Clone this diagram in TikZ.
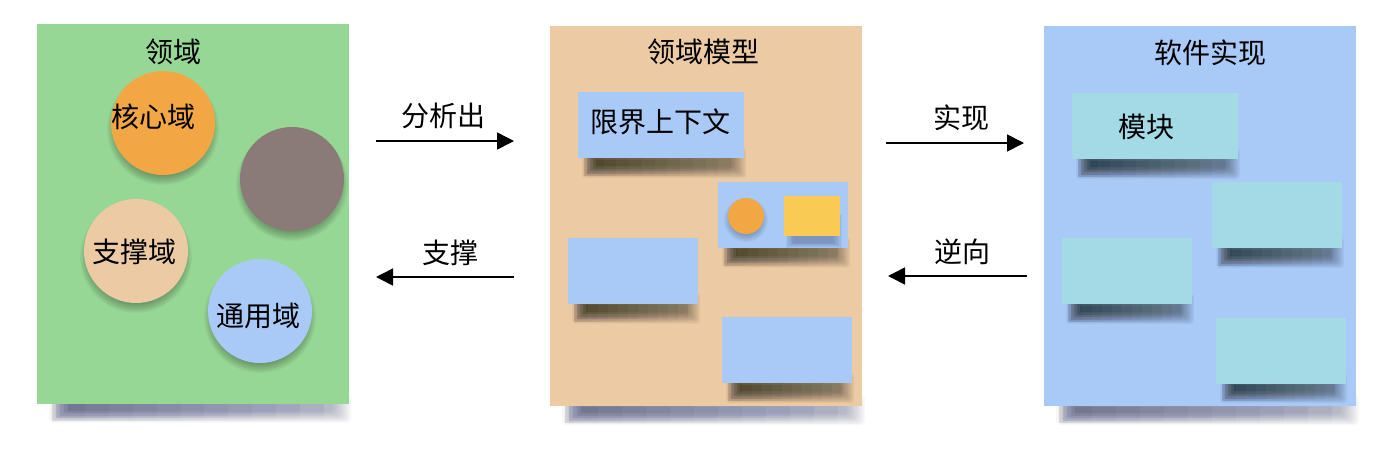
\documentclass[tikz,border=0pt]{standalone}
\usepackage{fontspec}
\setmainfont{Noto Sans CJK SC}
\usetikzlibrary{arrows.meta}
\definecolor{pgreen}{HTML}{97D795}
\definecolor{ptan}{HTML}{EBCAA4}
\definecolor{pblue}{HTML}{A9C9F7}
\definecolor{pcyan}{HTML}{A3DAE6}
\definecolor{porange}{HTML}{F2A744}
\definecolor{pgrey}{HTML}{8B7B78}
\definecolor{pyellow}{HTML}{F9CB55}
\definecolor{shd}{HTML}{1E2550}
% soft shadow under a card: left x, right x, bottom y
\newcommand\cardshadow[3]{%
  \foreach \i in {0,...,9}{%
    \fill[black,opacity=0.045,rounded corners=3pt] ({#1+4+\i*1.5},{#3-10+\i*1.2}) rectangle ({#2+2-\i*1.5},{#3+20-\i*1.2});}
  \foreach \i in {0,...,4}{%
    \foreach \j in {1,...,12}{%
      \fill[black,opacity=0.0065] ({#1+6+\i*3},{#3-8+\i*2.4}) rectangle ({#1+(#2-#1)*\j/13},{#3+18-\i*2.4});}}}
% soft shadow under a panel
\newcommand\panelshadow[3]{%
  \foreach \i in {0,...,9}{%
    \fill[shd,opacity=0.035,rounded corners=4pt] ({#1+12+\i*2},{#3-11+\i*1.2}) rectangle ({#2+3-\i*2},{#3+19-\i*1.2});}
  \foreach \i in {0,...,4}{%
    \foreach \j in {1,...,12}{%
      \fill[shd,opacity=0.006] ({#1+15+\i*4},{#3-9+\i*2.4}) rectangle ({#1+(#2-#1)*\j/13},{#3+17-\i*2.4});}}}
% soft shadow under a disc: centre x, centre y, radius
\newcommand\discshadow[3]{%
  \foreach \i in {0,...,7}{%
    \fill[black,opacity=0.04] (#1,{#2+6}) circle ({#3+4-\i*1.3});
  }}
\begin{document}
\begin{tikzpicture}[x=1pt,y=-1pt,
  panel/.style={rectangle,inner sep=0pt,draw=none,minimum width=312pt,minimum height=380pt},
  card/.style={rectangle,inner sep=0pt,draw=none,minimum width=130pt,minimum height=66pt},
  disc/.style={circle,inner sep=0pt,draw=none,minimum size=104pt},
  txt/.style={inner sep=0pt,font=\fontsize{28}{32}\selectfont,text=black},
  conn/.style={line width=1.6pt,-{Triangle[length=17pt,width=17pt]}}]
\useasboundingbox (0,0) rectangle (1398,456);
\fill[white] (0,0) rectangle (1398,456);

% panel shadows and panels
\panelshadow{37}{348}{403.5}
\panelshadow{550}{862}{406}
\panelshadow{1044}{1356}{406}
\node[panel,fill=pgreen] (dom) at (192.5,213.5) {};
\node[panel,fill=ptan] (model) at (706,216) {};
\node[panel,fill=pblue] (soft) at (1200,216) {};

\node[txt] (domT) at (173,52) {领域};
\node[txt] (modelT) at (703,52) {领域模型};
\node[txt] (softT) at (1210,53) {软件实现};

% domain circles
\discshadow{163}{123}{52}
\discshadow{292}{179}{52}
\discshadow{136}{251}{52}
\discshadow{260}{311}{52}
\node[disc,fill=porange] (core) at (163,123) {};
\node[disc,fill=pgrey] (grey) at (292,179) {};
\node[disc,fill=ptan] (supp) at (136,251) {};
\node[disc,fill=pblue] (gen) at (260,311) {};
\node[txt] (coreT) at ([shift={(-10,-6)}]core.center) {核心域};
\node[txt] (suppT) at ([shift={(-2,1)}]supp.center) {支撑域};
\node[txt] (genT) at ([shift={(-2,5)}]gen.center) {通用域};

% model cards
\cardshadow{578}{744}{158}
\cardshadow{718}{848}{247.5}
\cardshadow{568}{698}{303.5}
\cardshadow{722}{852}{383}
\node[card,fill=pblue,minimum width=166pt] (bc) at (661,125) {};
\node[txt] (bcT) at (660,122) {限界上下文};
\node[card,fill=pblue] (mix) at (783,214.5) {};
\discshadow{746}{214}{18}
\node[circle,inner sep=0pt,minimum size=36pt,fill=porange] (dot) at (746,216) {};
\foreach \i in {0,...,6}{%
  \fill[shd,opacity=0.05] ({786+\i*1.2},{214+\i*0.9}) rectangle ({842-\i*1.5},{248-\i*0.9});}
\node[rectangle,inner sep=0pt,minimum width=56pt,minimum height=40pt,fill=pyellow] (sq) at (812,216) {};
\node[card,fill=pblue] (m3) at (633,270.5) {};
\node[card,fill=pblue] (m4) at (787,350) {};

% software cards
\cardshadow{1072}{1238}{159}
\cardshadow{1212}{1342}{248}
\cardshadow{1062}{1192}{304}
\cardshadow{1216}{1345}{383}
\node[card,fill=pcyan,minimum width=166pt] (mod) at (1155,126) {};
\node[txt] (modT) at (1146,127) {模块};
\node[card,fill=pcyan] (s2) at (1277,215) {};
\node[card,fill=pcyan] (s3) at (1127,271) {};
\node[card,fill=pcyan] (s4) at (1280.5,350.5) {};

% connectors
\coordinate (a1s) at (376,141);
\coordinate (a1e) at (514,141);
\coordinate (a2s) at (514,277);
\coordinate (a2e) at (376,277);
\coordinate (a3s) at (886,143);
\coordinate (a3e) at (1024,143);
\coordinate (a4s) at (1027,276);
\coordinate (a4e) at (888,276);
\draw[conn] (a1s) -- (a1e);
\draw[conn] (a2s) -- (a2e);
\draw[conn] (a3s) -- (a3e);
\draw[conn] (a4s) -- (a4e);
\node[txt] (l1) at (443,116) {分析出};
\node[txt] (l2) at (450,253) {支撑};
\node[txt] (l3) at (961,118) {实现};
\node[txt] (l4) at (962,252) {逆向};
\end{tikzpicture}
\end{document}
